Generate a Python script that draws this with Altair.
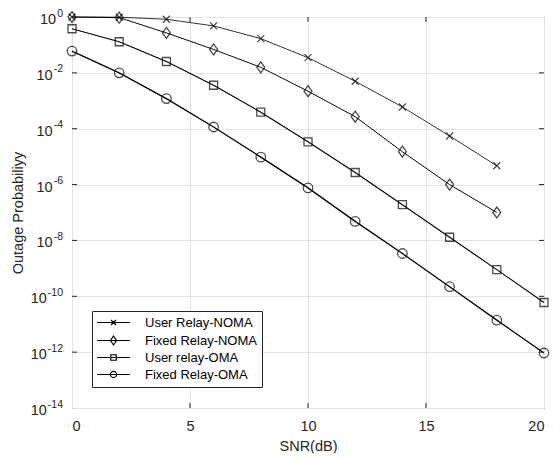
import altair as alt
import pandas as pd

# ---------------- data ----------------
names = ["User Relay-NOMA", "Fixed Relay-NOMA", "User relay-OMA", "Fixed Relay-OMA"]

snr_user_noma = [0, 2, 4, 6, 8, 10, 12, 14, 16, 18]
p_user_noma = [1.0, 0.98, 0.83, 0.48, 0.168, 0.035, 5.0e-3, 6.0e-4, 5.5e-5, 4.7e-6]

snr_fixed_noma = [0, 2, 4, 6, 8, 10, 12, 14, 16, 18]
p_fixed_noma = [1.0, 0.95, 0.27, 0.069, 0.0158, 2.2e-3, 2.7e-4, 1.5e-5, 1.0e-6, 1.0e-7]

snr_user_oma = [0, 2, 4, 6, 8, 10, 12, 14, 16, 18, 20]
p_user_oma = [0.38, 0.13, 0.0255, 3.6e-3, 3.9e-4, 3.4e-5, 2.7e-6, 1.9e-7, 1.3e-8, 9e-10, 6e-11]

snr_fixed_oma = [0, 2, 4, 6, 8, 10, 12, 14, 16, 18, 20]
p_fixed_oma = [0.06, 0.01, 1.2e-3, 1.15e-4, 9.6e-6, 7.6e-7, 4.8e-8, 3.4e-9, 2.2e-10, 1.4e-11, 9.3e-13]

x_ticks = [0, 5, 10, 15, 20]
y_exponents = [0, -2, -4, -6, -8, -10, -12, -14]

# ---------------- build tables ----------------
rows = []
for name, xs, ys in zip(names,
                        [snr_user_noma, snr_fixed_noma, snr_user_oma, snr_fixed_oma],
                        [p_user_noma, p_fixed_noma, p_user_oma, p_fixed_oma]):
    for x, y in zip(xs, ys):
        rows.append({"series": name, "snr": x, "p": y})
df = pd.DataFrame(rows)

y_ticks = [10.0 ** e for e in y_exponents]
y_labels = pd.DataFrame({"p": y_ticks, "sup": [str(e) for e in y_exponents]})
inner_x = pd.DataFrame({"snr": x_ticks[1:-1]})
inner_y = pd.DataFrame({"p": y_ticks[1:-1]})

W, H = 472, 391
FONT = "Liberation Sans"
TXT = "#262626"
SUP_SIZE = 10.5

x_scale = alt.Scale(domain=[0, 20], nice=False, zero=False)
y_scale = alt.Scale(type="log", domain=[1e-14, 1], nice=False)

x_enc = alt.X("snr:Q", scale=x_scale,
              axis=alt.Axis(values=x_ticks, title="SNR(dB)", labelPadding=11,
                            titlePadding=7, format="d"))
y_enc = alt.Y("p:Q", scale=y_scale,
              axis=alt.Axis(values=y_ticks, labels=False,
                            title="Outage Probabiliyy", titlePadding=47))

plot_shapes = [
    "M-0.7,-0.7L0.7,0.7M-0.7,0.7L0.7,-0.7",
    "M0,-1.1L0.8,0L0,1.1L-0.8,0Z",
    "M-0.8,-0.8H0.8V0.8H-0.8Z",
    "M0.95,0A0.95,0.95 0 1,1 -0.95,0A0.95,0.95 0 1,1 0.95,0Z",
]
legend_markers = [
    "M-0.5,-0.5L0.5,0.5M-0.5,0.5L0.5,-0.5",
    "M0,-0.9L0.6,0L0,0.9L-0.6,0Z",
    "M-0.55,-0.55H0.55V0.55H-0.55Z",
    "M0.62,0A0.62,0.62 0 1,1 -0.62,0A0.62,0.62 0 1,1 0.62,0Z",
]
legend_shapes = ["M-3.3,0H3.3" + s for s in legend_markers]

base = alt.Chart(df)

lines = base.mark_line(color="black").encode(
    x=x_enc, y=y_enc, detail="series:N",
    strokeWidth=alt.StrokeWidth("series:N", scale=alt.Scale(domain=names, range=[0.8, 1.3, 1.3, 1.3]),
                                legend=None),
)

points = base.mark_point(filled=False, color="black", size=100, strokeWidth=1.3).encode(
    x=alt.X("snr:Q", scale=x_scale), y=alt.Y("p:Q", scale=y_scale),
    shape=alt.Shape("series:N", scale=alt.Scale(domain=names, range=plot_shapes), legend=None),
)

legend_layer = base.mark_point(filled=False, color="black", opacity=0, strokeWidth=1.3).encode(
    x=alt.X("snr:Q", scale=x_scale), y=alt.Y("p:Q", scale=y_scale),
    shape=alt.Shape("series:N", scale=alt.Scale(domain=names, range=legend_shapes),
                    legend=alt.Legend(title=None, orient="none", legendX=20, legendY=294,
                                      strokeColor=TXT, fillColor="white", padding=5,
                                      symbolSize=100, symbolOffset=10, labelOffset=25,
                                      symbolStrokeWidth=1.2, symbolStrokeColor="black",
                                      labelFont=FONT, labelFontSize=13, labelColor="black",
                                      rowPadding=3, cornerRadius=0)),
)

# y tick labels "10" with a raised exponent
sup_labels = alt.Chart(y_labels).mark_text(
    align="right", baseline="middle", font=FONT, fontSize=SUP_SIZE, color=TXT, dy=-3.5
).encode(y=alt.Y("p:Q", scale=y_scale), x=alt.value(-9), text="sup:N")

base_labels = alt.Chart(y_labels).transform_calculate(
    neg="indexof(datum.sup, '-') >= 0 ? 1 : 0"
).transform_calculate(
    bx=f"-10 - (length(datum.sup) - datum.neg) * {SUP_SIZE * 0.556} - datum.neg * {SUP_SIZE * 0.333}",
    ten="'10'",
).mark_text(
    align="right", baseline="middle", font=FONT, fontSize=14.5, color=TXT, dy=3
).encode(y=alt.Y("p:Q", scale=y_scale), x=alt.X("bx:Q", scale=None), text="ten:N")

tick_color = TXT
ticks_bottom = alt.Chart(inner_x).mark_rule(color=tick_color).encode(
    x=alt.X("snr:Q", scale=x_scale), y=alt.value(H), y2=alt.value(H - 5))
ticks_top = alt.Chart(inner_x).mark_rule(color=tick_color).encode(
    x=alt.X("snr:Q", scale=x_scale), y=alt.value(0), y2=alt.value(5))
ticks_left = alt.Chart(inner_y).mark_rule(color=tick_color).encode(
    y=alt.Y("p:Q", scale=y_scale), x=alt.value(0), x2=alt.value(5))
ticks_right = alt.Chart(inner_y).mark_rule(color=tick_color).encode(
    y=alt.Y("p:Q", scale=y_scale), x=alt.value(W), x2=alt.value(W - 5))

chart = alt.layer(
    lines, points, legend_layer, ticks_bottom, ticks_top, ticks_left, ticks_right,
    sup_labels, base_labels
).resolve_scale(shape="independent").properties(
    width=W, height=H, background="white",
    autosize=alt.AutoSizeParams(type="none"),
    padding={"left": 64, "top": 9, "right": 8, "bottom": 45},
).configure_view(
    stroke=TXT, strokeWidth=1
).configure_axis(
    domain=False, ticks=False, grid=True, gridColor="#e2e2e2", gridWidth=1,
    labelFont=FONT, labelFontSize=14.5, labelColor=TXT,
    titleFont=FONT, titleFontSize=14.5, titleColor=TXT, titleFontWeight="normal",
)

chart.save("out.html", embed_options={"renderer": "svg", "actions": False})
